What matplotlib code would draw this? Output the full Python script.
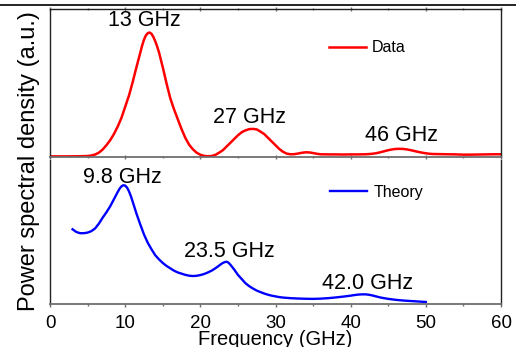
import matplotlib
matplotlib.use("Agg")
import matplotlib.pyplot as plt
from matplotlib.lines import Line2D

# ---- values ----
data_freq = [0, 2, 4, 5, 5.5, 6, 6.5, 7, 7.5, 8, 8.5, 9, 9.5, 10, 10.5, 11, 11.5,
             12, 12.25, 12.5, 12.75, 13, 13.25, 13.5, 13.75, 14, 14.25, 14.5, 15,
             15.5, 16, 16.5, 17, 17.5, 18, 18.5, 19, 19.5, 20, 20.5, 21, 21.5, 22,
             22.5, 23, 23.5, 24, 24.5, 25, 25.5, 26, 26.5, 27, 27.5, 28, 28.5, 29,
             29.5, 30, 30.5, 31, 31.5, 32, 32.5, 33, 33.5, 34, 34.5, 35, 35.5, 36,
             37, 38, 39, 40, 41, 42, 42.5, 43, 43.5, 44, 44.5, 45, 45.5, 46, 46.5,
             47, 47.5, 48, 48.5, 49, 49.5, 50, 50.5, 51, 52, 53, 54, 55, 56, 57,
             58, 59, 60]
data_psd = [0.0, 0.0, 0.001, 0.003, 0.007, 0.015, 0.03, 0.055, 0.09, 0.13, 0.18,
            0.24, 0.31, 0.40, 0.49, 0.60, 0.72, 0.835, 0.893, 0.942, 0.976, 0.995,
            1.0, 0.99, 0.965, 0.93, 0.888, 0.84, 0.72, 0.59, 0.47, 0.38, 0.30,
            0.22, 0.15, 0.095, 0.058, 0.03, 0.013, 0.004, 0.001, 0.003, 0.012,
            0.03, 0.05, 0.08, 0.11, 0.14, 0.17, 0.195, 0.21, 0.22, 0.222, 0.218,
            0.20, 0.18, 0.15, 0.12, 0.09, 0.06, 0.037, 0.022, 0.017, 0.018, 0.023,
            0.029, 0.033, 0.032, 0.027, 0.021, 0.017, 0.016, 0.016, 0.015, 0.016,
            0.016, 0.017, 0.019, 0.022, 0.027, 0.034, 0.042, 0.05, 0.056, 0.06,
            0.061, 0.06, 0.056, 0.05, 0.043, 0.036, 0.03, 0.025, 0.021, 0.019,
            0.018, 0.017, 0.016, 0.014, 0.014, 0.015, 0.016, 0.017, 0.017]

theory_freq = [3, 3.5, 4, 4.5, 5, 5.5, 6, 6.5, 7, 7.5, 8, 8.5, 9, 9.25, 9.5, 9.75,
               10, 10.25, 10.5, 10.75, 11, 11.5, 12, 12.5, 13, 13.5, 14, 14.5, 15,
               15.5, 16, 16.5, 17, 17.5, 18, 18.5, 19, 19.5, 20, 20.5, 21, 21.5,
               22, 22.5, 22.75, 23, 23.25, 23.5, 23.75, 24, 24.25, 24.5, 25, 25.5,
               26, 26.5, 27, 27.5, 28, 28.5, 29, 29.5, 30, 30.5, 31, 32, 33, 34,
               35, 36, 37, 38, 39, 40, 40.5, 41, 41.5, 42, 42.5, 43, 43.5, 44, 45,
               46, 47, 48, 49, 50]
theory_psd = [0.628, 0.605, 0.595, 0.595, 0.60, 0.612, 0.635, 0.675, 0.725, 0.77,
              0.82, 0.88, 0.94, 0.968, 0.988, 0.998, 0.995, 0.978, 0.948, 0.908,
              0.86, 0.76, 0.67, 0.585, 0.515, 0.46, 0.41, 0.375, 0.345, 0.32,
              0.30, 0.28, 0.265, 0.255, 0.245, 0.238, 0.235, 0.237, 0.243, 0.252,
              0.265, 0.28, 0.30, 0.323, 0.335, 0.345, 0.352, 0.355, 0.347, 0.33,
              0.31, 0.29, 0.245, 0.21, 0.175, 0.15, 0.13, 0.113, 0.10, 0.088,
              0.078, 0.07, 0.064, 0.058, 0.054, 0.049, 0.046, 0.044, 0.043, 0.045,
              0.049, 0.055, 0.062, 0.07, 0.075, 0.079, 0.081, 0.081, 0.077, 0.07,
              0.062, 0.054, 0.043, 0.035, 0.029, 0.025, 0.021, 0.017]

data_peaks = [(12.6, 1.10, "13 GHz"), (26.6, 0.31, "27 GHz"), (46.8, 0.165, "46 GHz")]
theory_peaks = [(9.6, 1.067, "9.8 GHz"), (23.8, 0.437, "23.5 GHz"), (42.2, 0.176, "42.0 GHz")]

xticks_major = [0, 10, 20, 30, 40, 50, 60]
xticks_minor = [5, 15, 25, 35, 45, 55]

# ---- styling ----
plt.rcParams.update({
    "font.family": ["Liberation Sans", "DejaVu Sans"],
    "font.size": 13.5,
})

W, H = 516, 347
fig = plt.figure(figsize=(W / 100, H / 100), dpi=100)
fig.patch.set_facecolor("white")

left, right = 50 / W, 501 / W
ax1 = fig.add_axes([left, 1 - 157 / H, right - left, 148 / H])
ax2 = fig.add_axes([left, 1 - 304 / H, right - left, 144 / H])

spine_grey = "#6e6e6e"

for ax in (ax1, ax2):
    ax.set_xlim(0, 60)
    ax.set_xticks(xticks_major)
    ax.set_xticks(xticks_minor, minor=True)
    ax.set_yticks([])
    for s in ("left", "right", "top"):
        ax.spines[s].set_color("#222222")
        ax.spines[s].set_linewidth(1.0)
    ax.spines["bottom"].set_color(spine_grey)
    ax.spines["bottom"].set_linewidth(1.3)
    ax.tick_params(axis="x", which="major", direction="out", length=2.5,
                   width=1.0, color=spine_grey, pad=5.5)
    ax.tick_params(axis="x", which="minor", direction="out", length=1.6,
                   width=1.0, color=spine_grey)

# top panel: Data
ax1.plot(data_freq, data_psd, color="#ff0000", lw=1.8, solid_joinstyle="round")
ax1.set_ylim(-0.005, 1.19)
ax1.tick_params(axis="x", labelbottom=False, top=True, which="both")
ax1.tick_params(axis="x", which="both", direction="inout")
for x, y, t in data_peaks:
    ax1.text(x, y, t, ha="center", va="center", fontsize=15.5)
ax1.legend(["Data"], loc="center left", frameon=False, fontsize=11.5,
           handlelength=2.3, handletextpad=0.4, borderpad=0, borderaxespad=0,
           bbox_to_anchor=(329 / W, 1 - 48 / H), bbox_transform=fig.transFigure)

# bottom panel: Theory
ax2.plot(theory_freq, theory_psd, color="#0000ff", lw=1.7, solid_joinstyle="round")
ax2.set_ylim(0, 1.21)
ax2.spines["top"].set_visible(False)
for x, y, t in theory_peaks:
    ax2.text(x, y, t, ha="center", va="center", fontsize=15.5)
ax2.legend(["Theory"], loc="center left", frameon=False, fontsize=11.5,
           handlelength=2.3, handletextpad=0.4, borderpad=0, borderaxespad=0,
           bbox_to_anchor=(330 / W, 1 - 192 / H), bbox_transform=fig.transFigure)

# shared axis labels
fig.text(275 / W, 1 - 345 / H, "Frequency (GHz)", ha="center", va="baseline",
         fontsize=14.5)
fig.text(29 / W, 1 - 161 / H, "Power spectral density (a.u.)", ha="center",
         va="center", rotation=90, fontsize=17)

# rule line along the cropped top edge
fig.add_artist(Line2D([0, 1], [1 - 5 / H] * 2, color="black", lw=1.2,
                      transform=fig.transFigure))

fig.savefig("out.png", dpi=100, facecolor="white")
